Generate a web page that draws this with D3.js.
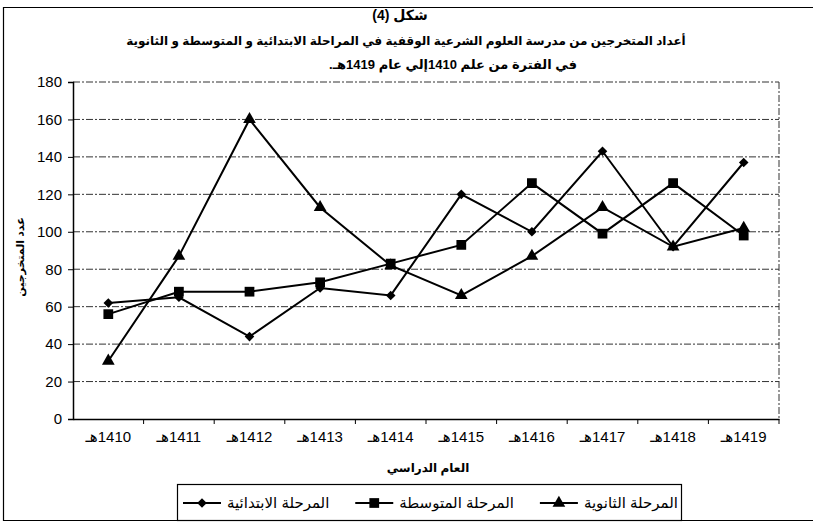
<!DOCTYPE html>
<html>
<head>
<meta charset="utf-8">
<script src="https://cdn.jsdelivr.net/npm/d3@7"></script>
<style>
body { margin: 0; background: #fff; }
text { font-family: "Liberation Sans", "DejaVu Sans", sans-serif; fill: #000; }
</style>
</head>
<body>
<svg id="chart" width="813" height="525"></svg>
<script>
// data
const years = ['1410', '1411', '1412', '1413', '1414', '1415', '1416', '1417', '1418', '1419'];
const yTicks = [0, 20, 40, 60, 80, 100, 120, 140, 160, 180];
const seriesNames = ['المرحلة الابتدائية', 'المرحلة المتوسطة', 'المرحلة الثانوية'];
const primary = [62, 65, 44, 70, 66, 120, 100, 143, 92, 137];
const intermediate = [56, 68, 68, 73, 83, 93, 126, 99, 126, 98];
const secondary = [31, 87, 160, 113, 82, 66, 87, 113, 92, 102];
const titleLines = [
    'شكل (4)',
    'أعداد المتخرجين من مدرسة العلوم الشرعية الوقفية في المراحلة الابتدائية و المتوسطة و الثانوية',
    'في الفترة من علم 1410إلي عام 1419هـ.'
];
const yTitle = 'عدد المتخرجين';
const xTitle = 'العام الدراسي';

const margin = {top: 82, right: 34, bottom: 106, left: 73};
const width = 813, height = 525;
const innerW = width - margin.left - margin.right;
const innerH = height - margin.top - margin.bottom;

const svg = d3.select('#chart');

// outer frame (left, top, bottom)
svg.append('path')
    .attr('d', 'M820,7.5 H3.5 V520.5 H820')
    .attr('fill', 'none')
    .attr('stroke', '#000')
    .attr('stroke-width', 1.2);

const chart = svg.append('g')
    .attr('transform', `translate(${margin.left},${margin.top})`);

const xScale = d3.scaleBand().domain(years).range([0, innerW]);
const yScale = d3.scaleLinear().domain([0, 180]).range([innerH, 0]);

// gridlines + top/right border, dashed like the scanned print
chart.selectAll('.grid')
    .data(yTicks.filter(d => d > 0))
    .join('line')
    .attr('class', 'grid')
    .attr('x1', 0).attr('x2', innerW)
    .attr('y1', d => yScale(d)).attr('y2', d => yScale(d))
    .attr('stroke', '#333')
    .attr('stroke-width', 1)
    .attr('stroke-dasharray', '7 2 2 2');

chart.append('line')
    .attr('x1', innerW).attr('x2', innerW)
    .attr('y1', 0).attr('y2', innerH)
    .attr('stroke', '#333')
    .attr('stroke-dasharray', '7 2 2 2');

// y axis
const yAxisG = chart.append('g')
    .call(d3.axisLeft(yScale).tickValues(yTicks).tickSize(5).tickPadding(6));
yAxisG.select('.domain').attr('stroke-width', 1.5);
yAxisG.selectAll('text').attr('font-size', 15).style('font-family', '"Liberation Sans", Arial, sans-serif');

// x axis: labels centered in bands, ticks between bands
const xAxisG = chart.append('g')
    .attr('transform', `translate(0,${innerH})`)
    .call(d3.axisBottom(xScale).tickSize(0).tickPadding(12).tickFormat(d => d + 'هـ'));
xAxisG.select('.domain').attr('stroke-width', 1.5);
xAxisG.selectAll('text')
    .attr('font-size', 15)
    .style('direction', 'rtl')
    .attr('text-anchor', 'middle');

chart.selectAll('.xtick')
    .data(years.slice(1).concat(['end']))
    .join('line')
    .attr('class', 'xtick')
    .attr('x1', (d, i) => xScale.step() * (i + 1))
    .attr('x2', (d, i) => xScale.step() * (i + 1))
    .attr('y1', innerH).attr('y2', innerH + 5)
    .attr('stroke', '#000');

// series
const series = [
    {name: seriesNames[0], values: primary, symbol: d3.symbolSquare, size: 46, rotate: 45},
    {name: seriesNames[1], values: intermediate, symbol: d3.symbolSquare, size: 95, rotate: 0},
    {name: seriesNames[2], values: secondary, symbol: d3.symbolTriangle, size: 70, rotate: 0}
];

const cx = d => xScale(d) + xScale.bandwidth() / 2;
const line = d3.line()
    .x((d, i) => cx(years[i]))
    .y(d => yScale(d));

series.forEach(s => {
    chart.append('path')
        .datum(s.values)
        .attr('d', line)
        .attr('fill', 'none')
        .attr('stroke', '#000')
        .attr('stroke-width', 2);

    chart.selectAll(null)
        .data(s.values)
        .join('path')
        .attr('d', d3.symbol().type(s.symbol).size(s.size))
        .attr('transform', (d, i) => `translate(${cx(years[i])},${yScale(d)}) rotate(${s.rotate})`)
        .attr('fill', '#000');
});

// titles
const titleX = [400, 406, 453];
const titleY = [20, 45, 69];
const titleSize = [14, 12, 13];
titleLines.forEach((t, i) => {
    svg.append('text')
        .attr('x', titleX[i])
        .attr('y', titleY[i])
        .attr('text-anchor', 'middle')
        .attr('font-size', titleSize[i])
        .attr('font-weight', 'bold')
        .style('direction', i === 0 ? 'ltr' : 'rtl')
        .text(t);
});

svg.append('text')
    .attr('transform', `translate(24,257) rotate(-90)`)
    .attr('text-anchor', 'middle')
    .attr('font-size', 11)
    .attr('font-weight', 'bold')
    .style('direction', 'rtl')
    .text(yTitle);

svg.append('text')
    .attr('x', 428)
    .attr('y', 472)
    .attr('text-anchor', 'middle')
    .attr('font-size', 12)
    .attr('font-weight', 'bold')
    .style('direction', 'rtl')
    .text(xTitle);

// legend
const legend = svg.append('g');
legend.append('rect')
    .attr('x', 177.5).attr('y', 484.5)
    .attr('width', 504).attr('height', 36)
    .attr('fill', '#fff')
    .attr('stroke', '#000')
    .attr('stroke-width', 1.2);

const items = series.map(s => {
    const g = legend.append('g');
    g.append('line').attr('x1', 0).attr('x2', 38).attr('y1', 0).attr('y2', 0)
        .attr('stroke', '#000').attr('stroke-width', 2);
    g.append('path')
        .attr('d', d3.symbol().type(s.symbol).size(s.size))
        .attr('transform', `translate(19,0) rotate(${s.rotate})`);
    const t = g.append('text')
        .attr('x', 44).attr('y', 5)
        .attr('font-size', 15)
        .text(s.name);
    return {g, w: 44 + t.node().getComputedTextLength()};
});

const legendLeft = 183, legendRight = 678;
const gap = (legendRight - legendLeft - d3.sum(items, d => d.w)) / (items.length - 1);
let lx = legendLeft;
items.forEach(it => {
    it.g.attr('transform', `translate(${lx},503)`);
    lx += it.w + gap;
});
</script>
</body>
</html>
